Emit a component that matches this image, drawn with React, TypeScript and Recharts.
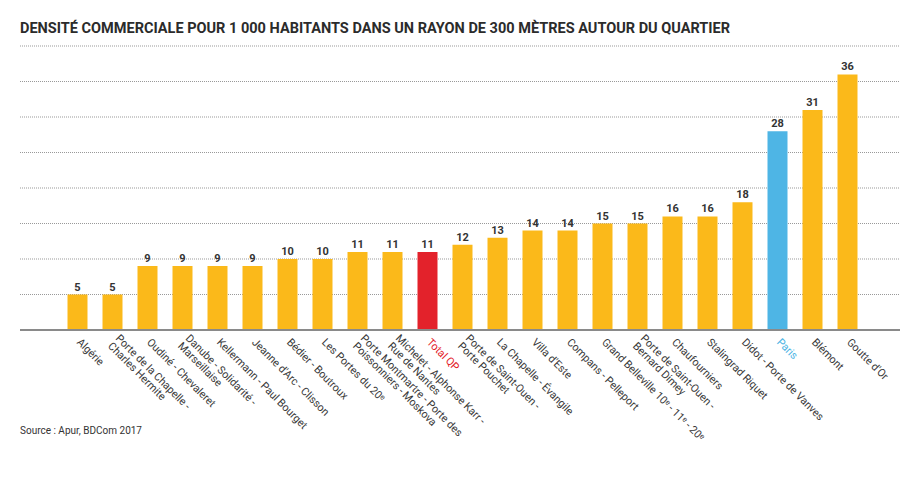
import React from 'react';
import { BarChart, Bar, XAxis, YAxis, CartesianGrid, Cell, LabelList } from 'recharts';

const categories = [
  'Algérie',
  'Porte de la Chapelle -\nCharles Hermite',
  'Oudiné - Chevaleret',
  'Danube - Solidarité -\nMarseillaise',
  'Kellermann - Paul Bourget',
  "Jeanne d'Arc - Clisson",
  'Bédier - Boutroux',
  'Les Portes du 20ᵉ',
  'Porte Montmartre - Porte des\nPoissonniers - Moskova',
  'Michelet - Alphonse Karr -\nRue de Nantes',
  'Total QP',
  'Porte de Saint-Ouen -\nPorte Pouchet',
  'La Chapelle - Évangile',
  "Villa d'Este",
  'Compans - Pelleport',
  'Grand Belleville 10ᵉ - 11ᵉ - 20ᵉ',
  'Porte de Saint-Ouen -\nBernard Dimey',
  'Chaufourniers',
  'Stalingrad Riquet',
  'Didot - Porte de Vanves',
  'Paris',
  'Blémont',
  "Goutte d'Or",
];

const values = [5, 5, 9, 9, 9, 9, 10, 10, 11, 11, 11, 12, 13, 14, 14, 15, 15, 16, 16, 18, 28, 31, 36];

const yTicks = [0, 5, 10, 15, 20, 25, 30, 35, 40];

const title = 'DENSITÉ COMMERCIALE POUR 1 000 HABITANTS DANS UN RAYON DE 300 MÈTRES AUTOUR DU QUARTIER';
const source = 'Source : Apur, BDCom 2017';

const data = categories.map((name, i) => ({ name, value: values[i] }));

const YELLOW = '#fbb91a';
const RED = '#e3222b';
const BLUE = '#4eb5e5';

const barColor = (name: string) => (name === 'Total QP' ? RED : name === 'Paris' ? BLUE : YELLOW);
const labelColor = (name: string) => (name === 'Total QP' ? RED : name === 'Paris' ? BLUE : '#3a3a3a');

const XTick = ({ x, y, payload }: any) => {
  const lines = String(payload.value).split('\n');
  return (
    <g transform={`translate(${x},${y}) rotate(45)`}>
      <text transform="scale(0.97,1)" fontSize={11} fill={labelColor(payload.value)} fontFamily="Roboto, sans-serif">
        {lines.map((l, i) => (
          <tspan key={i} x={3} y={4 + (i - (lines.length - 1) / 2) * 11}>
            {l}
          </tspan>
        ))}
      </text>
    </g>
  );
};

const ValueLabel = ({ x, y, width, value }: any) => (
  <text
    x={x + width / 2}
    y={y - 4}
    textAnchor="middle"
    fontSize={11}
    fontWeight="bold"
    fill="#333"
    fontFamily="Roboto, sans-serif"
  >
    {value}
  </text>
);

export default function App() {
  return (
    <div style={{ position: 'absolute', left: 0, top: 0, width: 922, height: 485, background: '#fff' }}>
      <svg width={922} height={485} style={{ position: 'absolute', left: 0, top: 0 }}>
        <text
          x={20}
          y={33}
          fontSize={15}
          fontWeight="bold"
          fill="#2b2b2b"
          fontFamily="Roboto, sans-serif"
          textLength={710}
          lengthAdjust="spacingAndGlyphs"
        >
          {title}
        </text>
        <text x={20} y={434} fontSize={10} fill="#333" fontFamily="Roboto, sans-serif">
          {source}
        </text>
      </svg>
      <div style={{ position: 'absolute', left: 0, top: 0 }}>
        <BarChart width={922} height={485} data={data} margin={{ top: 46, right: 22, left: 20, bottom: 35 }}>
          <CartesianGrid horizontal vertical={false} stroke="#999" strokeDasharray="1 1" />
          <YAxis hide domain={[0, 40]} ticks={yTicks} />
          <XAxis
            dataKey="name"
            interval={0}
            height={120}
            padding={{ left: 39.5, right: 35.5 }}
            axisLine={{ stroke: '#8a8a8a', strokeWidth: 2 }}
            tickLine={false}
            tick={<XTick />}
          />
          <Bar dataKey="value" barSize={20} isAnimationActive={false}>
            {data.map((d, i) => (
              <Cell key={i} fill={barColor(d.name)} />
            ))}
            <LabelList dataKey="value" content={<ValueLabel />} />
          </Bar>
        </BarChart>
      </div>
    </div>
  );
}
